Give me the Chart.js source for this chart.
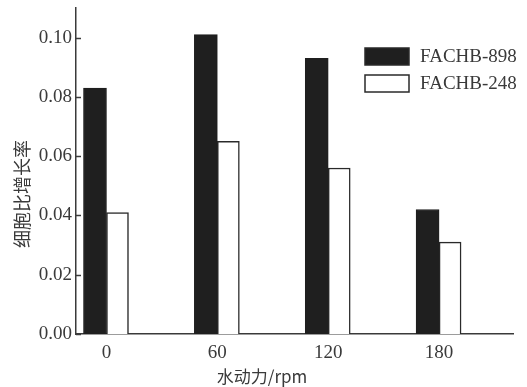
<!DOCTYPE html>
<html>
<head>
	<meta charset="utf-8">
	<title>细胞比增长率</title>
	<style>
		html, body { margin: 0; padding: 0; background: #fff; }
		#wrap { width: 527px; height: 387px; }
	</style>
</head>
<body>
	<div id="wrap"><canvas id="myChart"></canvas></div>
	<script type="text/javascript" src="https://cdn.jsdelivr.net/npm/chart.js@4.4.0/dist/chart.umd.min.js"></script>
	<script type="text/javascript">
		// hydrodynamic speed, rpm
		let speeds = [0, 60, 120, 180];
		let seriesNames = ["FACHB-898", "FACHB-248"];
		let rate898 = [0.083, 0.101, 0.093, 0.042];
		let rate248 = [0.041, 0.065, 0.056, 0.031];
		let yTicks = [0.00, 0.02, 0.04, 0.06, 0.08, 0.10];
		let xTitle = "水动力/rpm";
		let yTitle = "细胞比增长率";

		let serif = "'Liberation Serif', 'DejaVu Serif', serif";
		let cjk = "'Noto Sans CJK SC', sans-serif";
		let ink = "#3a3a3a";

		function toPoints(values) {
			return speeds.map((s, i) => ({x: s, y: values[i]}));
		}

		// legend box, inward y ticks and both axis titles
		let extras = {
			id: "extras",
			afterDraw(chart) {
				let ctx = chart.ctx;
				let y = chart.scales.y;
				let area = chart.chartArea;
				ctx.save();

				ctx.strokeStyle = ink;
				ctx.lineWidth = 1.5;
				yTicks.forEach(v => {
					let py = Math.round(y.getPixelForValue(v)) + 0.5;
					ctx.beginPath();
					ctx.moveTo(area.left, py);
					ctx.lineTo(area.left + 5, py);
					ctx.stroke();
				});

				ctx.font = "19px " + serif;
				ctx.textBaseline = "middle";
				ctx.textAlign = "left";
				chart.data.datasets.forEach((ds, i) => {
					let top = 48 + i * 27;
					ctx.fillStyle = ds.backgroundColor;
					ctx.fillRect(365, top, 44, 17);
					ctx.lineWidth = 1.5;
					ctx.strokeStyle = "#2a2a2a";
					ctx.strokeRect(365, top, 44, 17);
					ctx.fillStyle = ink;
					ctx.fillText(ds.label, 420, top + 9);
				});

				ctx.fillStyle = ink;
				ctx.font = "17px " + cjk;
				ctx.textAlign = "center";
				ctx.fillText(xTitle, 262, 377);

				ctx.translate(22, 194);
				ctx.rotate(-Math.PI / 2);
				ctx.font = "18px " + cjk;
				ctx.fillText(yTitle, 0, 0);
				ctx.restore();
			}
		};

		let ctx = document.getElementById("myChart").getContext("2d");
		let config = {
			type: "bar",
			data: {
				datasets: [
					{
						label: seriesNames[0],
						data: toPoints(rate898),
						backgroundColor: "#1f1f1f",
						borderColor: "#1f1f1f",
						borderWidth: 1,
						barThickness: 23,
					},
					{
						label: seriesNames[1],
						data: toPoints(rate248),
						backgroundColor: "#ffffff",
						borderColor: "#2a2a2a",
						borderWidth: 1.5,
						barThickness: 22,
					}
				]
			},
			options: {
				responsive: true,
				maintainAspectRatio: false,
				animation: false,
				layout: { padding: { top: 8, right: 14, left: 0, bottom: 0 } },
				plugins: {
					legend: { display: false },
					tooltip: { enabled: false }
				},
				scales: {
					x: {
						type: "linear",
						offset: false,
						min: -16.5,
						max: 220,
						grid: { display: false, drawTicks: false, offset: false },
						border: { color: ink, width: 1.5 },
						afterBuildTicks: s => { s.ticks = speeds.map(v => ({value: v})); },
						afterFit: s => { s.height = 53; s.paddingLeft = 0; s.paddingRight = 0; },
						ticks: {
							padding: 8,
							color: ink,
							font: { family: serif, size: 19 },
							callback: v => String(v)
						}
					},
					y: {
						min: 0,
						max: 0.11,
						grid: { display: false, drawTicks: false },
						border: { color: ink, width: 1.5 },
						afterBuildTicks: s => { s.ticks = yTicks.map(v => ({value: v})); },
						afterFit: s => { s.width = 76; s.paddingTop = 0; s.paddingBottom = 0; },
						ticks: {
							padding: 4,
							color: ink,
							font: { family: serif, size: 19 },
							callback: v => v.toFixed(2)
						}
					}
				}
			},
			plugins: [extras]
		};

		let myChart = new Chart(ctx, config);
	</script>
</body>
</html>
